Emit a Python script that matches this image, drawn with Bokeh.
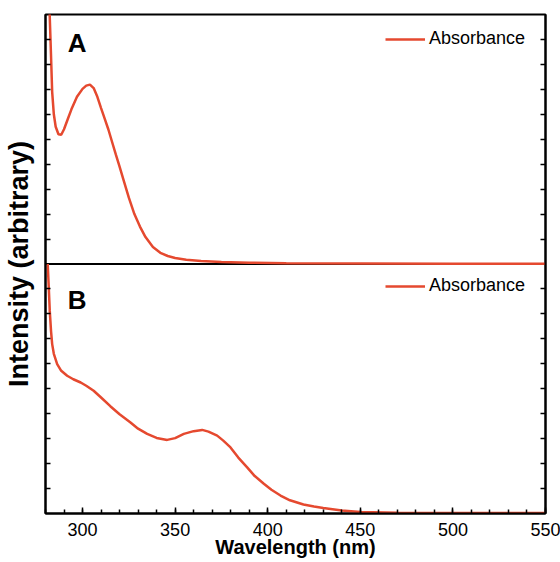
from bokeh.plotting import figure
from bokeh.models import (Range1d, LinearAxis, FixedTicker,
                          Span, Legend, LegendItem, Label, ColumnDataSource,
                          CustomJSTickFormatter)
from bokeh.embed import file_html
from bokeh.resources import INLINE

# ---- data ----
wl_a = [280.5, 281.5, 282.3, 283.0, 283.6, 284.5, 285.5, 287.0, 288.5, 290.0,
        292.0, 294.0, 297.0, 300.0, 302.0, 304.0, 306.0, 308.0, 310.0, 312.0,
        314.0, 316.0, 318.0, 320.0, 322.0, 325.0, 328.0, 331.0, 334.0, 338.0,
        342.0, 346.0, 350.0, 356.0, 364.0, 375.0, 390.0, 410.0, 450.0, 500.0, 550.0]
abs_a = [14.0, 11.5, 9.9, 8.3, 6.9, 6.0, 5.5, 5.2, 5.18, 5.4,
         5.8, 6.2, 6.7, 7.02, 7.15, 7.19, 7.05, 6.7, 6.25, 5.82,
         5.38, 4.88, 4.38, 3.9, 3.4, 2.66, 2.0, 1.5, 1.08, 0.68,
         0.45, 0.32, 0.24, 0.17, 0.12, 0.08, 0.05, 0.03, 0.02, 0.01, 0.01]

wl_b = [281.2, 281.8, 282.3, 283.0, 283.6, 284.5, 286.3, 288.5, 291.7, 295.0,
        299.0, 302.0, 306.0, 310.0, 315.0, 320.0, 325.9, 330.0, 334.9, 340.0,
        345.7, 350.0, 354.7, 360.0, 364.6, 368.0, 372.7, 376.0, 379.9, 384.0,
        388.9, 393.0, 397.9, 402.0, 406.9, 412.0, 419.3, 425.0, 430.0, 440.0,
        450.0, 470.0, 500.0, 550.0]
abs_b = [10.0, 9.0, 8.12, 7.3, 6.79, 6.4, 5.99, 5.72, 5.52, 5.38,
         5.25, 5.12, 4.92, 4.65, 4.3, 3.98, 3.65, 3.4, 3.19, 3.03,
         2.95, 3.02, 3.19, 3.3, 3.35, 3.28, 3.12, 2.92, 2.65, 2.25,
         1.85, 1.5, 1.19, 0.95, 0.72, 0.53, 0.36, 0.28, 0.22, 0.12,
         0.06, 0.03, 0.02, 0.02]

x_ticks = [300, 350, 400, 450, 500, 550]
y_ticks = [1, 2, 3, 4, 5, 6, 7, 8, 9, 11, 12, 13, 14, 15, 16, 17, 18, 19]
series_label = "Absorbance"
panel_labels = ["A", "B"]
x_title = "Wavelength (nm)"
y_title = "Intensity (arbitrary)"

FONT = "Liberation Sans"
RED = "#e5492f"

p = figure(width=560, height=562, output_backend="svg", toolbar_location=None,
           x_range=Range1d(280, 550), y_range=Range1d(0, 20),
           min_border_left=45, min_border_right=15, min_border_top=14,
           min_border_bottom=49)
p.extra_y_ranges = {"top": Range1d(-10, 10)}
p.grid.visible = False
p.outline_line_color = "black"
p.outline_line_width = 2
p.background_fill_color = "white"
p.border_fill_color = "white"

blank = CustomJSTickFormatter(code="return '';")

# x axis
xa = p.xaxis[0]
xa.ticker = FixedTicker(ticks=x_ticks,
                        minor_ticks=list(range(280, 551, 10)))
xa.axis_label = x_title
xa.axis_label_text_font = FONT
xa.axis_label_text_font_style = "bold"
xa.axis_label_text_font_size = "20px"
xa.axis_label_text_color = "black"
xa.axis_label_standoff = -3
xa.major_label_text_font = FONT
xa.major_label_text_font_size = "18px"
xa.major_label_text_color = "black"
xa.major_label_standoff = 9
xa.major_tick_in = 6
xa.major_tick_out = 0
xa.minor_tick_in = 4
xa.minor_tick_out = 0
xa.axis_line_width = 2
xa.major_tick_line_width = 1.5
xa.minor_tick_line_width = 1.5

# left y axis
ya = p.yaxis[0]
ya.ticker = FixedTicker(ticks=y_ticks)
ya.formatter = blank
ya.major_label_standoff = 0
ya.axis_label = y_title
ya.axis_label_text_font = FONT
ya.axis_label_text_font_style = "bold"
ya.axis_label_text_font_size = "27px"
ya.axis_label_text_color = "black"
ya.axis_label_standoff = 12
ya.major_tick_in = 5
ya.major_tick_out = 0
ya.minor_tick_line_color = None
ya.axis_line_width = 2
ya.major_tick_line_width = 1.5

# right y axis
ra = LinearAxis(ticker=FixedTicker(ticks=y_ticks), formatter=blank)
ra.major_label_standoff = 0
ra.major_tick_in = 5
ra.major_tick_out = 0
ra.minor_tick_line_color = None
ra.axis_line_width = 2
ra.major_tick_line_width = 1.5
p.add_layout(ra, "right")

# divider between panels
p.add_layout(Span(location=10, dimension="width", line_color="black",
                  line_width=2, level="underlay"))

src_a = ColumnDataSource(dict(x=wl_a, y=abs_a))
src_b = ColumnDataSource(dict(x=wl_b, y=abs_b))
ra_line = p.line("x", "y", source=src_a, y_range_name="top",
                 line_color=RED, line_width=2.5)
rb_line = p.line("x", "y", source=src_b, line_color=RED, line_width=2.5)

def make_legend(renderer, loc):
    lg = Legend(items=[LegendItem(label=series_label, renderers=[renderer])],
                location=loc, glyph_width=40, glyph_height=20,
                label_standoff=4, padding=0, margin=0, spacing=0,
                label_text_font=FONT, label_text_font_size="18px",
                label_text_color="black",
                border_line_color=None, background_fill_alpha=0)
    return lg

p.add_layout(make_legend(ra_line, (340, 464)))
p.add_layout(make_legend(rb_line, (340, 217)))

for txt, yv in zip(panel_labels, [18.84, 8.54]):
    p.add_layout(Label(x=292, y=yv, text=txt, text_font=FONT,
                       text_font_style="bold", text_font_size="26px",
                       text_baseline="alphabetic", text_color="black"))

open("out.html", "w").write(file_html(p, INLINE))
